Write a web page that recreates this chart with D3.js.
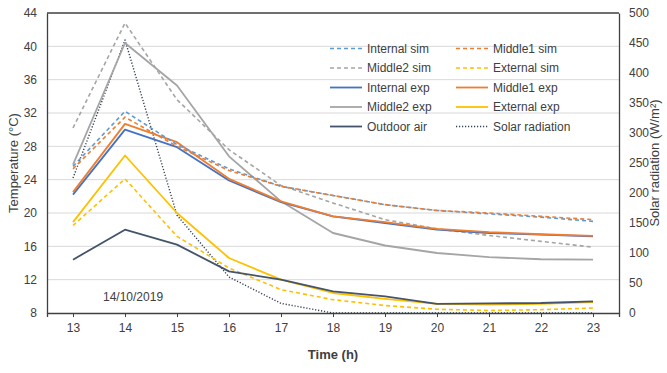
<!DOCTYPE html>
<html>
<head>
    <meta charset="utf-8">
    <title>Temperature and solar radiation</title>
    <script src="https://cdnjs.cloudflare.com/ajax/libs/d3/7.8.5/d3.min.js"></script>
    <style>
        body { margin: 0; background: #fff; }
        text { font-family: "Liberation Sans", Arial, sans-serif; }
    </style>
</head>
<body>
    <div id="chart"></div>
    <script>
        // hours on the x axis
        const hours = [13, 14, 15, 16, 17, 18, 19, 20, 21, 22, 23];

        // temperatures (°C)
        const internalSim = [25.6, 32.2, 28.2, 25.3, 23.2, 22.1, 21.0, 20.3, 19.9, 19.5, 19.0];
        const middle1Sim  = [25.3, 31.5, 28.0, 25.1, 23.2, 22.1, 21.0, 20.3, 20.0, 19.6, 19.2];
        const middle2Sim  = [30.2, 42.8, 33.6, 27.6, 23.3, 21.2, 19.2, 18.1, 17.3, 16.6, 15.9];
        const externalSim = [18.5, 24.1, 17.2, 13.4, 10.8, 9.6, 8.9, 8.45, 8.3, 8.4, 8.6];
        const internalExp = [22.2, 30.0, 27.9, 23.9, 21.3, 19.6, 18.8, 18.0, 17.6, 17.4, 17.2];
        const middle1Exp  = [22.5, 30.7, 28.5, 24.1, 21.4, 19.6, 18.9, 18.1, 17.7, 17.45, 17.25];
        const middle2Exp  = [25.8, 40.4, 35.3, 26.8, 21.4, 17.6, 16.1, 15.2, 14.7, 14.45, 14.4];
        const externalExp = [18.9, 26.9, 20.0, 14.6, 12.0, 10.4, 9.7, 9.1, 9.0, 9.1, 9.3];
        const outdoorAir  = [14.4, 18.0, 16.2, 13.0, 12.0, 10.6, 10.0, 9.1, 9.15, 9.2, 9.4];

        // solar radiation (W/m2), right axis
        const solar = [225, 455, 163, 60, 16, 0, 0, 0, 0, 0, 0];

        const tempTicks = [8, 12, 16, 20, 24, 28, 32, 36, 40, 44];
        const solarTicks = [0, 50, 100, 150, 200, 250, 300, 350, 400, 450, 500];

        const series = [
            { name: "Internal sim", values: internalSim, color: "#5b9bd5", dash: "4,3", w: 1.6 },
            { name: "Middle1 sim", values: middle1Sim, color: "#ed7d31", dash: "4,3", w: 1.6 },
            { name: "Middle2 sim", values: middle2Sim, color: "#a5a5a5", dash: "4,3", w: 1.6 },
            { name: "External sim", values: externalSim, color: "#ffc000", dash: "4,3", w: 1.6 },
            { name: "Internal exp", values: internalExp, color: "#4472c4", dash: null, w: 1.8 },
            { name: "Middle1 exp", values: middle1Exp, color: "#ed7d31", dash: null, w: 1.8 },
            { name: "Middle2 exp", values: middle2Exp, color: "#a5a5a5", dash: null, w: 1.8 },
            { name: "External exp", values: externalExp, color: "#ffc000", dash: null, w: 1.8 },
            { name: "Outdoor air", values: outdoorAir, color: "#44546a", dash: null, w: 1.8 },
            { name: "Solar radiation", values: solar, color: "#333f50", dash: "1.2,1.8", w: 1.4, right: true }
        ];

        const width = 667, height = 373;
        const margin = { top: 13, right: 48, bottom: 60, left: 47 };

        const svg = d3.select("#chart").append("svg")
            .attr("width", width)
            .attr("height", height);

        const x = d3.scalePoint()
            .domain(hours)
            .range([margin.left, width - margin.right])
            .padding(0.5);

        const y = d3.scaleLinear()
            .domain([8, 44])
            .range([height - margin.bottom, margin.top]);

        const y2 = d3.scaleLinear()
            .domain([0, 500])
            .range([height - margin.bottom, margin.top]);

        // gridlines
        svg.append("g")
            .selectAll("line")
            .data(tempTicks.slice(1, -1))
            .join("line")
            .attr("x1", margin.left)
            .attr("x2", width - margin.right)
            .attr("y1", d => y(d))
            .attr("y2", d => y(d))
            .attr("stroke", "#d9d9d9")
            .attr("stroke-width", 1);

        // axes
        const xAxis = svg.append("g")
            .attr("transform", `translate(0,${height - margin.bottom})`)
            .call(d3.axisBottom(x).tickSize(4).tickPadding(6));
        const yAxis = svg.append("g")
            .attr("transform", `translate(${margin.left},0)`)
            .call(d3.axisLeft(y).tickValues(tempTicks).tickSize(0).tickPadding(10));
        const y2Axis = svg.append("g")
            .attr("transform", `translate(${width - margin.right},0)`)
            .call(d3.axisRight(y2).tickValues(solarTicks).tickSize(0).tickPadding(10));

        [xAxis, yAxis, y2Axis].forEach(g => {
            g.selectAll("text")
                .attr("fill", "#404040")
                .style("font-size", "12px");
            g.selectAll("line").attr("stroke", "#404040");
            g.select(".domain").attr("stroke", "#404040").attr("stroke-width", 1.3);
        });

        // top border
        svg.append("line")
            .attr("x1", margin.left)
            .attr("x2", width - margin.right)
            .attr("y1", margin.top)
            .attr("y2", margin.top)
            .attr("stroke", "#404040")
            .attr("stroke-width", 1.3);

        // lines
        const line = d3.line()
            .x((d, i) => x(hours[i]))
            .y(d => y(d));
        const line2 = d3.line()
            .x((d, i) => x(hours[i]))
            .y(d => y2(d));

        const drawOrder = [9, 6, 2, 4, 5, 0, 1, 7, 3, 8];
        svg.append("g")
            .selectAll("path")
            .data(drawOrder.map(i => series[i]))
            .join("path")
            .attr("fill", "none")
            .attr("stroke", d => d.color)
            .attr("stroke-width", d => d.w)
            .attr("stroke-dasharray", d => d.dash)
            .attr("stroke-linejoin", "round")
            .attr("d", d => d.right ? line2(d.values) : line(d.values));

        // legend
        const legend = svg.append("g")
            .selectAll("g")
            .data(series)
            .join("g")
            .attr("transform", (d, i) => `translate(${i % 2 ? 456 : 330},${48.5 + Math.floor(i / 2) * 19.5})`);
        legend.append("line")
            .attr("x1", 0).attr("x2", 32)
            .attr("stroke", d => d.color)
            .attr("stroke-width", d => d.w)
            .attr("stroke-dasharray", d => d.dash);
        legend.append("text")
            .attr("x", 37)
            .attr("dy", "0.35em")
            .attr("fill", "#404040")
            .style("font-size", "12px")
            .text(d => d.name);

        // date label
        svg.append("text")
            .attr("x", 103)
            .attr("y", 301)
            .attr("fill", "#404040")
            .style("font-size", "12px")
            .text("14/10/2019");

        // axis titles
        svg.append("text")
            .attr("x", (margin.left + width - margin.right) / 2)
            .attr("y", 359)
            .attr("text-anchor", "middle")
            .attr("fill", "#404040")
            .style("font-size", "13px")
            .style("font-weight", "bold")
            .text("Time (h)");

        svg.append("text")
            .attr("transform", `translate(18,${(margin.top + height - margin.bottom) / 2}) rotate(-90)`)
            .attr("text-anchor", "middle")
            .attr("fill", "#404040")
            .style("font-size", "13px")
            .text("Temperature (°C)");

        svg.append("text")
            .attr("transform", `translate(659,${(margin.top + height - margin.bottom) / 2}) rotate(-90)`)
            .attr("text-anchor", "middle")
            .attr("fill", "#404040")
            .style("font-size", "13px")
            .text("Solar radiation (W/m²)");
    </script>
</body>
</html>
